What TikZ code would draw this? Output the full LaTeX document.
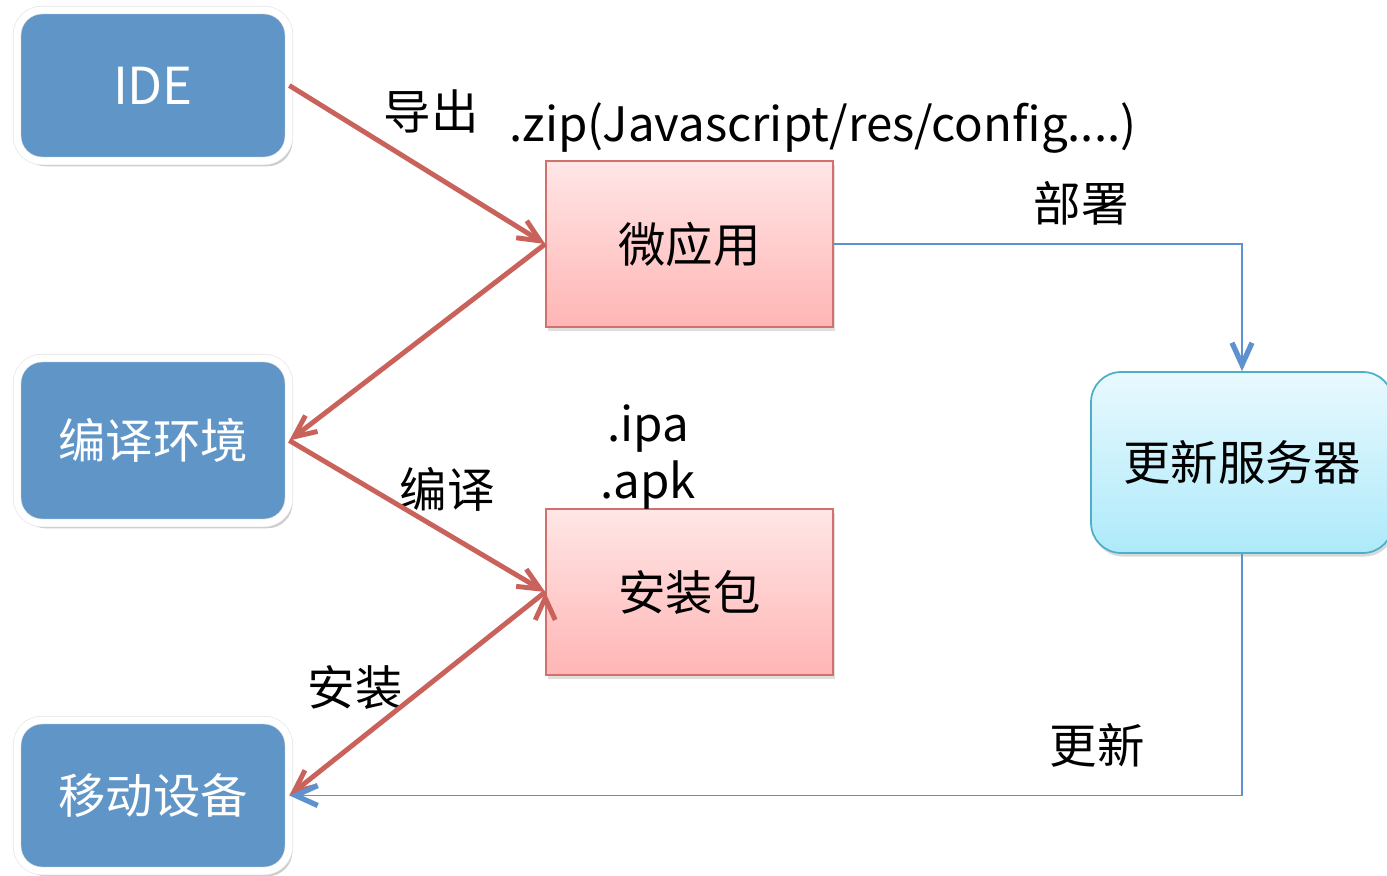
\documentclass[tikz,border=0pt]{standalone}
\usepackage{fontspec}
\setmainfont{Noto Sans CJK SC}
\usetikzlibrary{arrows.meta,shadows}
\definecolor{boxblue}{HTML}{6095C8}
\definecolor{flowred}{HTML}{C9625B}
\definecolor{pushblue}{HTML}{5E91CF}
\definecolor{pinktop}{HTML}{FFE6E6}
\definecolor{pinkbot}{HTML}{FFB5B5}
\definecolor{pinkline}{HTML}{D2706B}
\definecolor{cyantop}{HTML}{E8F9FE}
\definecolor{cyanbot}{HTML}{AEEAFA}
\definecolor{cyanline}{HTML}{4DAFC8}

\begin{document}
\begin{tikzpicture}[x=0.02cm,y=-0.02cm,
    every node/.style={font=\fontsize{27pt}{32pt}\selectfont},
    tool node/.style={rounded corners=0.5cm,fill=boxblue,draw=black!10,line width=0.4pt,double=white,double distance=4pt,text=white,minimum width=5.44cm,minimum height=3.02cm,drop shadow={shadow xshift=2pt,shadow yshift=-3pt,opacity=0.4}},
    file node/.style={draw=pinkline,line width=0.9pt,top color=pinktop,bottom color=pinkbot,minimum width=5.74cm,minimum height=3.32cm,drop shadow={shadow xshift=1pt,shadow yshift=-2pt,opacity=0.25}},
    server node/.style={rounded corners=0.6cm,draw=cyanline,line width=1pt,top color=cyantop,bottom color=cyanbot,minimum width=6.04cm,minimum height=3.62cm,drop shadow={shadow xshift=1pt,shadow yshift=-2pt,opacity=0.3}},
    flow/.style={draw=flowred,line width=2.8pt,-{Straight Barb[length=4.4mm,width=4mm]}},
    push/.style={draw=pushblue,line width=1.1pt,-{Straight Barb[length=4.4mm,width=4mm,line width=3pt]}}]

    \useasboundingbox (0,0) rectangle (1387,876);

    \node[tool node] (ide) at (153,85.5) {\fontsize{29pt}{32pt}\selectfont IDE};
    \node[tool node, minimum height=3.3cm] (env) at (153,440.5) {编译环境};
    \node[tool node] (dev) at (153,795.5) {移动设备};

    \node[file node] (app) at (689.5,244) {微应用};
    \node[file node] (pkg) at (689.5,592) {安装包};
    \node[server node] (srv) at (1242,462.5) {更新服务器};

    \node (export) at (431,111) {导出};
    \node (zip) at (823,128) {.zip(Javascript/res/config....)};
    \node (deploy) at (1081,203) {部署};
    \node[align=center] (bin) at (648,457) {.ipa\\.apk};
    \node (build) at (447,489) {编译};
    \node (install) at (355,688) {安装};
    \node (update) at (1097,745) {更新};

    \path[flow]
        (ide.east) edge (app.west)
        (app.west) edge (env.east)
        (env.east) edge (pkg.west)
        (pkg.west) edge (dev.east)
    ;
    \draw[push] (app.east) -| (srv.north);
    \draw[push] (srv.south) |- (dev.east);
\end{tikzpicture}
\end{document}
